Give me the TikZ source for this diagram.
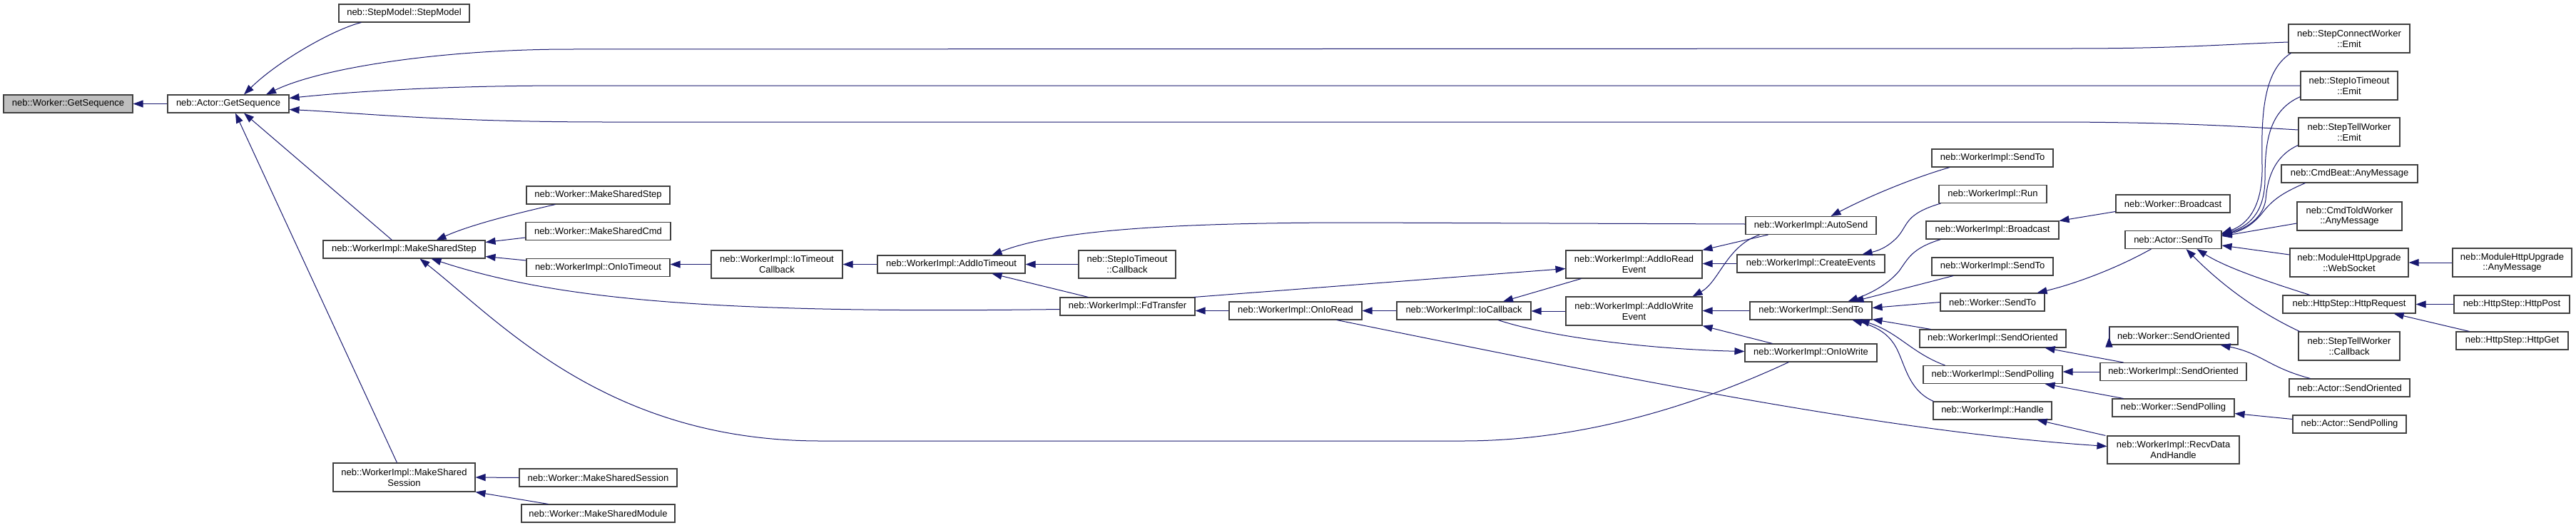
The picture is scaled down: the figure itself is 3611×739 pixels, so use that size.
\documentclass[tikz,border=0pt]{standalone}
\usepackage{fontspec}
\setmainfont{Liberation Sans}
\usetikzlibrary{calc,arrows.meta}
\definecolor{edgecol}{HTML}{191970}
\definecolor{boxcol}{HTML}{404040}
\definecolor{rootgray}{HTML}{BFBFBF}
\newcommand\nodefont{\fontsize{13pt}{14.7pt}\selectfont}
\tikzset{
  fn/.style={draw=boxcol, line width=1.1pt, fill=white, inner sep=0pt, minimum height=25pt, align=center, font=\nodefont},
  two/.style={minimum height=40pt},
  cline/.style={draw=edgecol, line width=1pt, -{Triangle[length=14pt,width=10pt]}}
}
\begin{document}
\begin{tikzpicture}[x=1pt,y=-1pt]
\useasboundingbox[fill=white] (0,0) rectangle (3611,739);
% nodes
\node[fn, minimum width=181pt, fill=rootgray] (gs) at (95.5,145.5) {neb::Worker::GetSequence};
\node[fn, minimum width=170pt] (ags) at (320,145.5) {neb::Actor::GetSequence};
\node[fn, minimum width=183pt] (sm) at (566.5,18.5) {neb::StepModel::StepModel};
\node[fn, minimum width=227pt] (mss) at (566.5,349.5) {neb::WorkerImpl::MakeSharedStep};
\node[fn, two, minimum width=199pt] (mses) at (566.5,669) {neb::WorkerImpl::MakeShared\\Session};
\node[fn, minimum width=201pt] (wmss) at (838.5,273.5) {neb::Worker::MakeSharedStep};
\node[fn, minimum width=203pt] (wmsc) at (838.5,324) {neb::Worker::MakeSharedCmd};
\node[fn, minimum width=201pt] (oit) at (838.5,375) {neb::WorkerImpl::OnIoTimeout};
\node[fn, two, minimum width=184pt, minimum height=39pt] (iotc) at (1089,370.5) {neb::WorkerImpl::IoTimeout\\Callback};
\node[fn, minimum width=221pt] (wmsse) at (838.5,669.5) {neb::Worker::MakeSharedSession};
\node[fn, minimum width=215pt] (wmsm) at (838.5,719.5) {neb::Worker::MakeSharedModule};
\node[fn, minimum width=207pt] (aiot) at (1333.5,370.5) {neb::WorkerImpl::AddIoTimeout};
\node[fn, two, minimum width=136pt, minimum height=39pt] (sitc) at (1580,370.5) {neb::StepIoTimeout\\::Callback};
\node[fn, minimum width=189pt] (fdt) at (1580.5,429.5) {neb::WorkerImpl::FdTransfer};
\node[fn, minimum width=186pt] (oir) at (1816,435.5) {neb::WorkerImpl::OnIoRead};
\node[fn, minimum width=188pt] (ioc) at (2052,435.5) {neb::WorkerImpl::IoCallback};
\node[fn, two, minimum width=191pt, minimum height=39pt] (aire) at (2290.5,370.5) {neb::WorkerImpl::AddIoRead\\Event};
\node[fn, two, minimum width=191pt] (aiwe) at (2290.5,436) {neb::WorkerImpl::AddIoWrite\\Event};
\node[fn, minimum width=183pt] (ast) at (2538.5,316) {neb::WorkerImpl::AutoSend};
\node[fn, minimum width=207pt] (ce) at (2538.5,369.5) {neb::WorkerImpl::CreateEvents};
\node[fn, minimum width=171pt] (wst) at (2538.5,435.5) {neb::WorkerImpl::SendTo};
\node[fn, minimum width=185pt] (oiw) at (2538.5,494.5) {neb::WorkerImpl::OnIoWrite};
\node[fn, minimum width=170pt] (st1) at (2793,221.5) {neb::WorkerImpl::SendTo};
\node[fn, minimum width=151pt] (run) at (2793.5,272) {neb::WorkerImpl::Run};
\node[fn, minimum width=186pt] (wbc) at (2793,322.5) {neb::WorkerImpl::Broadcast};
\node[fn, minimum width=170pt] (st2) at (2793,373.5) {neb::WorkerImpl::SendTo};
\node[fn, minimum width=146pt] (wkst) at (2793,423.5) {neb::Worker::SendTo};
\node[fn, minimum width=205pt] (wso) at (2793.5,474.5) {neb::WorkerImpl::SendOriented};
\node[fn, minimum width=195pt] (wsp) at (2793.5,525) {neb::WorkerImpl::SendPolling};
\node[fn, minimum width=166pt] (hdl) at (2793,575.5) {neb::WorkerImpl::Handle};
\node[fn, minimum width=160pt] (wkbc) at (3046,285.5) {neb::Worker::Broadcast};
\node[fn, minimum width=135pt] (ast2) at (3046.5,336) {neb::Actor::SendTo};
\node[fn, minimum width=180pt] (wkso) at (3047,470.5) {neb::Worker::SendOriented};
\node[fn, minimum width=205pt] (wso2) at (3046.5,521) {neb::WorkerImpl::SendOriented};
\node[fn, minimum width=171pt] (wksp) at (3046.5,571.5) {neb::Worker::SendPolling};
\node[fn, two, minimum width=185pt, minimum height=39pt] (rdh) at (3046.5,630.5) {neb::WorkerImpl::RecvData\\AndHandle};
\node[fn, two, minimum width=170pt] (sce) at (3293,54) {neb::StepConnectWorker\\::Emit};
\node[fn, two, minimum width=136pt] (sie) at (3293,120) {neb::StepIoTimeout\\::Emit};
\node[fn, two, minimum width=142pt] (ste) at (3293,185) {neb::StepTellWorker\\::Emit};
\node[fn, minimum width=191pt] (cba) at (3293.5,243.5) {neb::CmdBeat::AnyMessage};
\node[fn, two, minimum width=147pt] (ctw) at (3293.5,303) {neb::CmdToldWorker\\::AnyMessage};
\node[fn, two, minimum width=166pt] (mws) at (3293,368) {neb::ModuleHttpUpgrade\\::WebSocket};
\node[fn, two, minimum width=167pt] (mam) at (3521.5,368) {neb::ModuleHttpUpgrade\\::AnyMessage};
\node[fn, minimum width=186pt] (hreq) at (3293,426.5) {neb::HttpStep::HttpRequest};
\node[fn, minimum width=162pt] (hpost) at (3521,426.5) {neb::HttpStep::HttpPost};
\node[fn, minimum width=157pt] (hget) at (3521.5,477.5) {neb::HttpStep::HttpGet};
\node[fn, two, minimum width=142pt] (stcb) at (3293,485) {neb::StepTellWorker\\::Callback};
\node[fn, minimum width=169pt] (aso) at (3293.5,543.5) {neb::Actor::SendOriented};
\node[fn, minimum width=159pt] (asp) at (3293.5,594.5) {neb::Actor::SendPolling};
% edges
\draw[cline] (ags.west) -- (gs.east);
\draw[cline] ($(sm.south)+(-60,0)$) .. controls (470,40) and (390,85) .. ($(ags.north)+(22,0)$);
\draw[cline] ($(sce.west)+(0,5)$) .. controls (3100,63) and (3050,68) .. (2900,68) -- (800,69) .. controls (620,69) and (450,95) .. ($(ags.north)+(53,0)$);
\draw[cline] ($(sie.west)$) -- (800,120) .. controls (600,120) and (480,130) .. ($(ags.east)+(0,-8)$);
\draw[cline] ($(ste.west)+(0,-3)$) .. controls (3120,176) and (3050,172) .. (2900,171) -- (850,171) .. controls (620,171) and (500,158) .. ($(ags.east)+(0,8)$);
\draw[cline] ($(mss.north)+(-17,0)$) -- ($(ags.south)+(22,0)$);
\draw[cline] ($(mses.north)+(-10,0)$) -- ($(ags.south)+(10,0)$);
\draw[cline] ($(wmss.south)+(-60,0)$) .. controls (720,300) and (660,315) .. ($(mss.north)+(45,0)$);
\draw[cline] ($(wmsc.west)+(0,9)$) -- ($(mss.east)+(0,-10)$);
\draw[cline] ($(oit.west)+(0,-10)$) -- ($(mss.east)+(0,10)$);
\draw[cline] ($(fdt.west)+(0,4)$) .. controls (1000,440) and (780,420) .. ($(mss.south)+(38,0)$);
\draw[cline] ($(oiw.south)+(-31,0)$) .. controls (2420,548) and (2250,618) .. (2050,618) -- (1150,618) .. controls (850,618) and (700,450) .. ($(mss.south)+(22,0)$);
\draw[cline] (iotc.west) -- (iotc.west -| oit.east);
\draw[cline] (aiot.west) -- (iotc.east);
\draw[cline] (sitc.west) -- (aiot.east);
\draw[cline] ($(fdt.north)+(-55,0)$) -- ($(aiot.south)+(57,0)$);
\draw[cline] ($(ast.west)+(0,-2)$) -- (1900,312) .. controls (1650,312) and (1480,322) .. ($(aiot.north)+(57,0)$);
\draw[cline] (oir.west) -- (oir.west -| fdt.east);
\draw[cline] ($(fdt.north east)+(-2,0)$) -- ($(aire.west)+(0,6)$);
\draw[cline] ($(aire.south)+(-74,0)$) -- ($(ioc.north)+(55,0)$);
\draw[cline] (ioc.west) -- (oir.east);
\draw[cline] (aiwe.west) -- (aiwe.west -| ioc.east);
\draw[cline] ($(oir.south)+(58,0)$) .. controls (2300,535) and (2650,605) .. ($(rdh.west)+(0,-5)$);
\draw[cline] ($(ioc.south)+(48,0)$) .. controls (2180,475) and (2330,490) .. ($(oiw.west)+(0,-2)$);
\draw[cline] ($(ast.south)+(-60,0)$) -- (aire.north east);
\draw[cline] (ce.west) -- (ce.west -| aire.east);
\draw[cline] ($(ast.south)+(-72,0)$) .. controls (2420,345) and (2410,395) .. ($(aiwe.north east)+(-14,0)$);
\draw[cline] (wst.west) -- (wst.west -| aiwe.east);
\draw[cline] ($(oiw.north)+(-54,0)$) -- (aiwe.south east);
\draw[cline] ($(st1.south)+(-60,0)$) .. controls (2680,250) and (2620,275) .. ($(ast.north)+(28,0)$);
\draw[cline] ($(run.south west)+(3,0)$) .. controls (2670,300) and (2675,315) .. (2660,332) .. controls (2645,348) and (2630,352) .. ($(ce.north)+(72,0)$);
\draw[cline] ($(wbc.south west)+(21,0)$) .. controls (2680,348) and (2675,362) .. (2662,380) .. controls (2645,400) and (2620,412) .. ($(wst.north)+(52,0)$);
\draw[cline] ($(st2.south)+(-55,0)$) -- ($(wst.north)+(60,0)$);
\draw[cline] (wkst.west) -- ($(wst.east)+(0,-4)$);
\draw[cline] ($(wso.north west)+(16,0)$) -- ($(wst.south east)+(0,-1)$);
\draw[cline] ($(wsp.north west)+(31,0)$) .. controls (2680,495) and (2660,465) .. ($(wst.south)+(68,0)$);
\draw[cline] ($(hdl.north west)+(1,0)$) .. controls (2670,545) and (2670,500) .. (2652,478) .. controls (2640,462) and (2620,455) .. ($(wst.south)+(58,0)$);
\draw[cline] ($(wkbc.west)+(0,11)$) -- ($(wbc.east)+(0,-13)$);
\draw[cline] ($(ast2.south west)+(37,0)$) .. controls (2960,380) and (2900,400) .. ($(wkst.north east)+(-11,0)$);
\draw[cline] ($(sce.south west)+(4,0)$) .. controls (3170,100) and (3170,170) .. (3171,233) .. controls (3172,290) and (3150,315) .. ($(ast2.north east)+(0,4)$);
\draw[cline] ($(sie.south west)+(0,-5)$) .. controls (3180,155) and (3175,200) .. (3175,250) .. controls (3175,300) and (3150,318) .. ($(ast2.north east)+(0,5)$);
\draw[cline] ($(ste.south west)+(0,-2)$) .. controls (3185,220) and (3178,255) .. (3176,280) .. controls (3172,305) and (3150,320) .. ($(ast2.north east)+(0,6)$);
\draw[cline] ($(cba.south west)+(34,0)$) .. controls (3200,270) and (3185,280) .. (3170,300) .. controls (3155,318) and (3140,324) .. ($(ast2.north east)+(0,7)$);
\draw[cline] ($(ctw.west)+(0,10)$) -- ($(ast2.east)+(0,-5)$);
\draw[cline] ($(mws.west)+(0,-11)$) -- ($(ast2.east)+(0,8)$);
\draw[cline] ($(hreq.north)+(-55,0)$) .. controls (3180,395) and (3120,375) .. ($(ast2.south east)+(-35,0)$);
\draw[cline] ($(stcb.north west)+(2,0)$) .. controls (3150,430) and (3100,385) .. ($(ast2.south)+(18,0)$);
\draw[cline] (mam.west) -- (mws.east);
\draw[cline] (hpost.west) -- (hreq.east);
\draw[cline] ($(hget.north west)+(19,0)$) -- ($(hreq.south east)+(-31,0)$);
\draw[cline] ($(wkso.west)+(0,2)$) -- ($(wkso.west)+(0,2)$ -| wso.east);
\draw[cline] ($(wso2.north)+(-70,0)$) -- ($(wso.south east)+(-30,0)$);
\draw[cline] (wso2.west) -- (wso2.west -| wsp.east);
\draw[cline] ($(wksp.north)+(-70,0)$) -- ($(wsp.south east)+(-25,0)$);
\draw[cline] ($(aso.north)+(-55,0)$) .. controls (3180,515) and (3170,495) .. ($(wkso.south east)+(-25,0)$);
\draw[cline] ($(asp.west)+(0,-7)$) -- ($(wksp.east)+(0,8)$);
\draw[cline] ($(rdh.north west)+(-2,0)$) -- ($(hdl.south east)+(-21,0)$);
\draw[cline] (wmsse.west) -- (mses.east);
\draw[cline] ($(wmsm.north)+(-70,0)$) -- (mses.south east);
\end{tikzpicture}
\end{document}
